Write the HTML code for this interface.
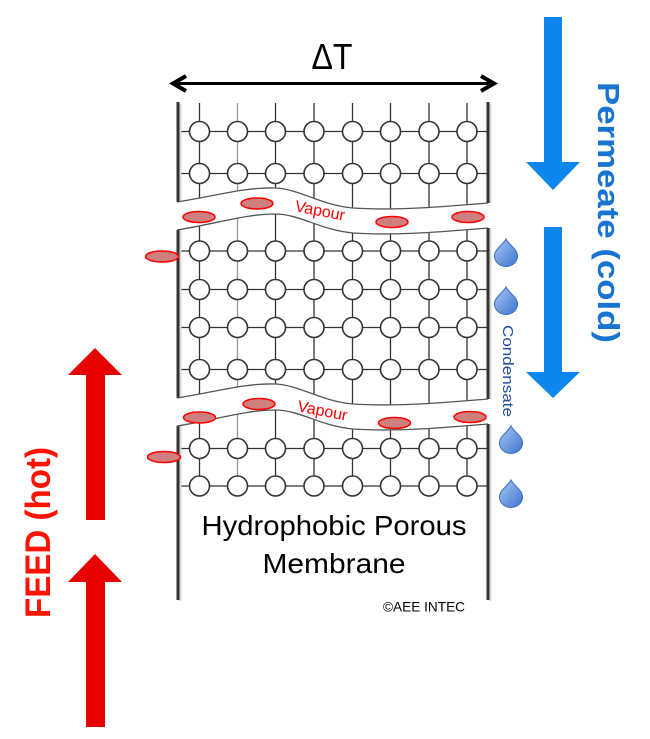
<!DOCTYPE html>
<html><head><meta charset="utf-8"><style>
html,body{margin:0;padding:0;background:#fff;}
svg{display:block;}
</style></head><body>
<svg width="650" height="739" viewBox="0 0 650 739" xmlns="http://www.w3.org/2000/svg">
<defs>
<linearGradient id="dg" x1="0" y1="0" x2="1" y2="1">
<stop offset="0" stop-color="#a9c8f5"/><stop offset="1" stop-color="#3c74cf"/>
</linearGradient>
<g id="row">
<circle cx="199.5" cy="0" r="10"/><circle cx="237.5" cy="0" r="10"/><circle cx="275.5" cy="0" r="10"/><circle cx="314" cy="0" r="10"/><circle cx="352.5" cy="0" r="10"/><circle cx="390.5" cy="0" r="10"/><circle cx="429" cy="0" r="10"/><circle cx="467" cy="0" r="10"/>
</g>
<g id="band">
<path d="M170,202 L177,202 C215,196 245,187 275,188 C300,189 320,205 353,208 C400,211 450,206 488,203 L496,203 L496,228 L488,228 C450,231 400,236 353,233 C320,230 300,214 275,214 C245,214 215,224 177,230 L170,230 Z" fill="#fff" stroke="none"/>
<path d="M177,202 C215,196 245,187 275,188 C300,189 320,205 353,208 C400,211 450,206 488,203" fill="none" stroke="#555" stroke-width="1.3"/>
<path d="M177,230 C215,224 245,214 275,214 C300,214 320,230 353,233 C400,236 450,231 488,228" fill="none" stroke="#555" stroke-width="1.3"/>
</g>
</defs>
<rect width="650" height="739" fill="#fff"/>

<!-- delta T arrow -->
<line x1="175" y1="83.5" x2="492" y2="83.5" stroke="#000" stroke-width="3"/>
<polyline points="186,76 173,83.5 186,91" fill="none" stroke="#000" stroke-width="4" stroke-linejoin="miter"/>
<polyline points="481,76 494,83.5 481,91" fill="none" stroke="#000" stroke-width="4" stroke-linejoin="miter"/>
<text x="332" y="69" font-family="Liberation Sans, sans-serif" font-size="36" text-anchor="middle" textLength="41" lengthAdjust="spacingAndGlyphs">ΔT</text>

<!-- grid vertical lines -->
<g stroke="#333" stroke-width="1.3">
<line x1="199.5" y1="103" x2="199.5" y2="486"/>
<line x1="237.5" y1="103" x2="237.5" y2="486" stroke="#999"/>
<line x1="275.5" y1="103" x2="275.5" y2="486"/>
<line x1="314" y1="103" x2="314" y2="486"/>
<line x1="352.5" y1="103" x2="352.5" y2="486"/>
<line x1="390.5" y1="103" x2="390.5" y2="486"/>
<line x1="429" y1="103" x2="429" y2="486"/>
<line x1="467" y1="103" x2="467" y2="486"/>
</g>
<!-- grid horizontal lines -->
<g stroke="#333" stroke-width="1.3">
<line x1="177" y1="131.5" x2="488" y2="131.5"/>
<line x1="177" y1="173.5" x2="488" y2="173.5"/>
<line x1="177" y1="251" x2="488" y2="251"/>
<line x1="177" y1="289.5" x2="488" y2="289.5"/>
<line x1="177" y1="327.5" x2="488" y2="327.5"/>
<line x1="177" y1="369.5" x2="488" y2="369.5"/>
<line x1="177" y1="448.5" x2="488" y2="448.5"/>
<line x1="177" y1="486" x2="488" y2="486"/>
</g>

<!-- walls -->
<line x1="180.5" y1="104" x2="180.5" y2="601" stroke="#d8d8d8" stroke-width="2"/>
<line x1="490.5" y1="104" x2="490.5" y2="601" stroke="#d8d8d8" stroke-width="2"/>
<line x1="178" y1="102" x2="178" y2="600" stroke="#333" stroke-width="3"/>
<line x1="488" y1="102" x2="488" y2="600" stroke="#333" stroke-width="3"/>

<!-- circles -->
<g fill="#fff" stroke="#333" stroke-width="1.6">
<use href="#row" y="131.5"/><use href="#row" y="173.5"/>
<use href="#row" y="251"/><use href="#row" y="289.5"/><use href="#row" y="327.5"/><use href="#row" y="369.5"/>
<use href="#row" y="448.5"/><use href="#row" y="486"/>
</g>

<!-- vapour bands -->
<use href="#band"/>
<use href="#band" y="196"/>

<!-- vapour text -->
<text transform="translate(320,211) rotate(11)" font-family="Liberation Sans, sans-serif" font-size="16" fill="#ff0000" text-anchor="middle" dy="5">Vapour</text>
<text transform="translate(322.5,411) rotate(11)" font-family="Liberation Sans, sans-serif" font-size="16" fill="#ff0000" text-anchor="middle" dy="5">Vapour</text>

<!-- vapour molecules -->
<g fill="#d07f7f" stroke="#ff0000" stroke-width="1.5">
<ellipse cx="199" cy="217" rx="16" ry="5.5"/>
<ellipse cx="257" cy="203.5" rx="16" ry="5.5"/>
<ellipse cx="392" cy="222" rx="16" ry="5.5"/>
<ellipse cx="468" cy="217" rx="16" ry="5.5"/>
<ellipse cx="162" cy="256.5" rx="16.5" ry="5.5"/>
<ellipse cx="199.5" cy="417.5" rx="16" ry="5.5"/>
<ellipse cx="259" cy="404" rx="16" ry="5.5"/>
<ellipse cx="394.5" cy="423" rx="16" ry="5.5"/>
<ellipse cx="470" cy="417" rx="16" ry="5.5"/>
<ellipse cx="164" cy="457" rx="16.5" ry="5.5"/>
</g>

<!-- droplets -->
<g fill="url(#dg)" stroke="#3a6cc0" stroke-width="1">
<path d="M506,239 C509,245 517.5,249 517.5,256 A11.5,10.5 0 0 1 494.5,256 C494.5,249 503,245 506,239Z"/>
<path d="M506,287 C509,293 517.5,297 517.5,304 A11.5,10.5 0 0 1 494.5,304 C494.5,297 503,293 506,287Z"/>
<path d="M511,426 C514,432 522.5,436 522.5,443 A11.5,10.5 0 0 1 499.5,443 C499.5,436 508,432 511,426Z"/>
<path d="M511,480 C514,486 522.5,490 522.5,497 A11.5,10.5 0 0 1 499.5,497 C499.5,490 508,486 511,480Z"/>
</g>

<text transform="translate(503,325) rotate(90)" font-family="Liberation Sans, sans-serif" font-size="15" fill="#1f4fa0" textLength="92" lengthAdjust="spacingAndGlyphs">Condensate</text>

<!-- blue arrows -->
<g fill="#0d86ee">
<rect x="544" y="17" width="18" height="146"/>
<polygon points="526,162 580,162 553,190"/>
<rect x="544" y="227" width="18" height="146"/>
<polygon points="526,372 580,372 553,398"/>
</g>
<text transform="translate(598,82) rotate(90)" font-family="Liberation Sans, sans-serif" font-weight="bold" font-size="31" fill="#1874d0" textLength="261" lengthAdjust="spacingAndGlyphs">Permeate (cold)</text>

<!-- red arrows -->
<g fill="#e60000">
<rect x="86" y="374" width="19" height="146"/>
<polygon points="68,375 122,375 95,348"/>
<rect x="86" y="581" width="19" height="146"/>
<polygon points="68,582 122,582 95,554"/>
</g>
<text transform="translate(50,618) rotate(-90)" font-family="Liberation Sans, sans-serif" font-weight="bold" font-size="35" fill="#ff1200" textLength="171" lengthAdjust="spacingAndGlyphs">FEED (hot)</text>

<!-- labels -->
<text x="334" y="535" font-family="Liberation Sans, sans-serif" font-size="28" fill="#000" text-anchor="middle" textLength="265" lengthAdjust="spacingAndGlyphs">Hydrophobic Porous</text>
<text x="334" y="573" font-family="Liberation Sans, sans-serif" font-size="28" fill="#000" text-anchor="middle" textLength="143" lengthAdjust="spacingAndGlyphs">Membrane</text>
<text x="383" y="611.5" font-family="Liberation Sans, sans-serif" font-size="14" fill="#000" textLength="82" lengthAdjust="spacingAndGlyphs">©AEE INTEC</text>
</svg>
</body></html>
